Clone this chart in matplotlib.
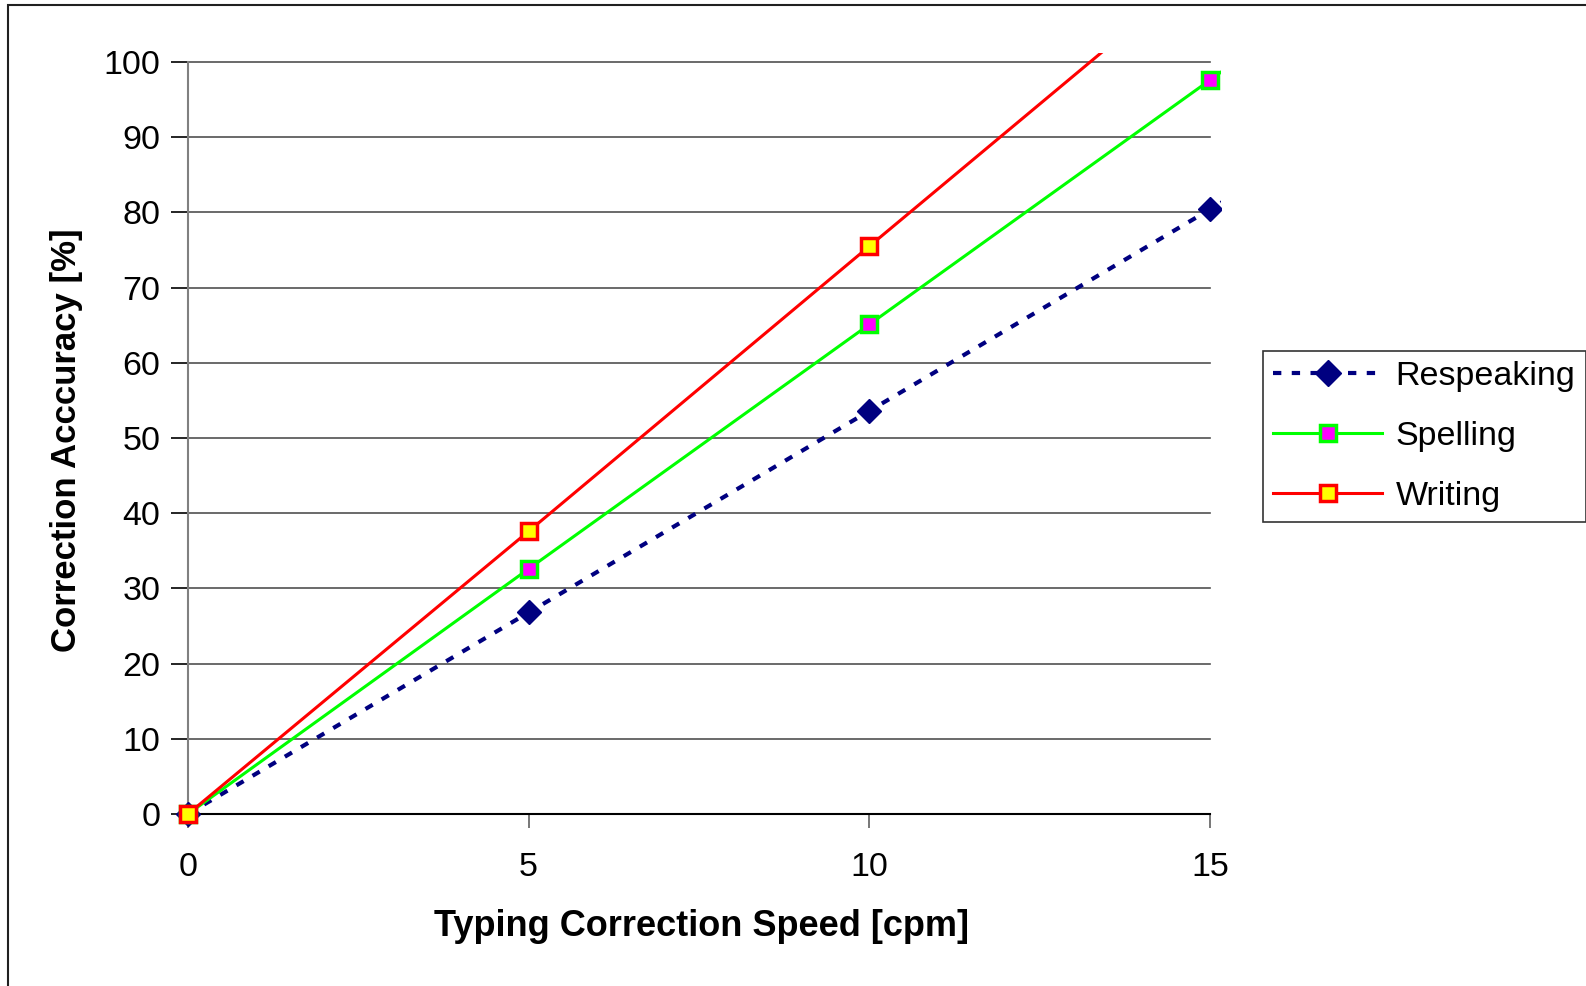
import matplotlib
matplotlib.use("Agg")
import matplotlib.pyplot as plt
from matplotlib.patches import Rectangle

plt.rcParams['font.family'] = ['Liberation Sans', 'DejaVu Sans']

#%% data (last point lies outside the visible area, lines are clipped)
speed = [0, 5, 10, 15, 20]
respeaking = [0, 26.8, 53.6, 80.4, 107.2]
spelling = [0, 32.6, 65.1, 97.6, 130.2]
writing = [0, 37.6, 75.5, 113.3, 151.0]

x_ticks = [0, 5, 10, 15]
y_ticks = list(range(0, 101, 10))

fig = plt.figure(figsize=(15.86, 9.86), dpi=100)

# outer chart border (only top and left are visible)
fig.patches.append(Rectangle((8 / 1586, -0.1), 1.2, 1 - 5 / 986 + 0.1,
                             transform=fig.transFigure, fill=False,
                             edgecolor='#202020', linewidth=1.5))

# axes placed so that x=0 -> 188px, x=15 -> 1210px, y=0 -> 814px, y=100 -> 62px
px_x = (1210 - 188) / 15.0
px_y = (814 - 62) / 100.0
xlim = (-0.25, 15.16)
ylim = (-1.6, 101.25)
left = 188 + xlim[0] * px_x
bottom = 986 - (814 - ylim[0] * px_y)
ax = fig.add_axes([left / 1586, bottom / 986,
                   (xlim[1] - xlim[0]) * px_x / 1586,
                   (ylim[1] - ylim[0]) * px_y / 986])
ax.set_xlim(*xlim)
ax.set_ylim(*ylim)
ax.patch.set_alpha(0)

# gridlines only across the category range
for yv in y_ticks[1:]:
    ax.plot([0, 15], [yv, yv], color='#505050', linewidth=1.2, zorder=1, clip_on=False)

ax.spines['top'].set_visible(False)
ax.spines['right'].set_visible(False)
ax.spines['left'].set_position(('data', 0))
ax.spines['bottom'].set_position(('data', 0))
ax.spines['left'].set_bounds(0, 100)
ax.spines['bottom'].set_bounds(0, 15)
ax.spines['left'].set_color('#808080')
ax.spines['left'].set_linewidth(1.5)
ax.spines['bottom'].set_color('black')
ax.spines['bottom'].set_linewidth(1.5)

ax.set_xticks(x_ticks)
ax.set_yticks(y_ticks)
ax.tick_params(axis='x', direction='out', length=10, width=1.2, color='#606060',
               labelsize=24.5, pad=17)
ax.tick_params(axis='y', direction='out', length=12, width=1.2, color='black',
               labelsize=24.5, pad=8)

ax.plot(speed, respeaking, color='#000080', linestyle=(0, (2, 2.5)), linewidth=3,
        marker='D', markersize=12, markerfacecolor='#000080',
        markeredgecolor='#000080', label='Respeaking', zorder=3)
ax.plot(speed, spelling, color='#00ff00', linewidth=2.2,
        marker='s', markersize=11, markerfacecolor='#ff00ff',
        markeredgecolor='#00ff00', markeredgewidth=2.5, label='Spelling', zorder=4)
ax.plot(speed, writing, color='#ff0000', linewidth=2.2,
        marker='s', markersize=11, markerfacecolor='#ffff00',
        markeredgecolor='#ff0000', markeredgewidth=2.5, label='Writing', zorder=5)

fig.text(701 / 1586, 1 - 927 / 986, 'Typing Correction Speed [cpm]',
         ha='center', va='center', fontsize=26, fontweight='bold')
fig.text(67 / 1586, 1 - 440 / 986, 'Correction Acccuracy [%]',
         ha='center', va='center', rotation=90, fontsize=25, fontweight='bold')

leg = fig.legend(loc='upper left', bbox_to_anchor=(1263 / 1586, 1 - 351 / 986),
                 fontsize=24.5, frameon=True, fancybox=False, handlelength=3.2,
                 borderpad=0.3, labelspacing=0.85, handletextpad=0.4,
                 borderaxespad=0, markerscale=1.1)
leg.get_frame().set_edgecolor('black')
leg.get_frame().set_linewidth(1.2)

fig.savefig('out.png', dpi=100)
